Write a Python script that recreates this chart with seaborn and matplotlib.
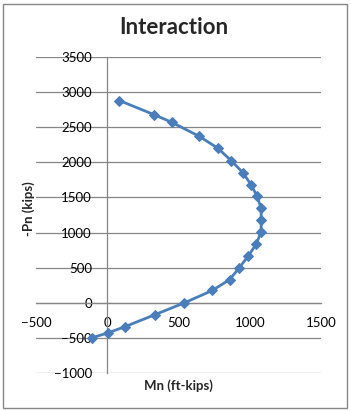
import matplotlib
matplotlib.use("Agg")
import matplotlib.pyplot as plt
import matplotlib.patches as patches
import numpy as np
import pandas as pd
import seaborn as sns

# interaction diagram points
mn = [85, 327, 453, 646, 777, 869, 951, 1010, 1052, 1080, 1080, 1080,
      1047, 989, 925, 859, 737, 542, 334, 125, 3, -110]
pn = [2880, 2680, 2570, 2370, 2200, 2025, 1855, 1680, 1515, 1345, 1185, 1015,
      840, 665, 495, 330, 175, 0, -170, -340, -430, -500]
x_ticks = [-500, 0, 500, 1000, 1500]
y_ticks = [-1000, -500, 0, 500, 1000, 1500, 2000, 2500, 3000, 3500]

df = pd.DataFrame({"Mn": mn, "Pn": pn})

sns.set_style("white")
plt.rcParams['font.family'] = ['Lato', 'DejaVu Sans']

grey = '#868686'
blue = '#4a7ebb'

fig = plt.figure(figsize=(3.51, 4.11), dpi=100)
ax = fig.add_axes([36 / 351, 1 - 373 / 411, 285 / 351, 316 / 411])

# horizontal gridlines only, like excel
for v in y_ticks:
    ax.axhline(v, color=grey, lw=0.9, zorder=0)

sns.lineplot(data=df, x="Mn", y="Pn", sort=False, estimator=None, ax=ax,
             color=blue, lw=2, marker='D', markersize=5.5,
             markeredgecolor=blue, zorder=3)

ax.set_xlim(-500, 1500)
ax.set_ylim(-1000, 3500)
ax.set_xticks(x_ticks)
ax.set_yticks(y_ticks)

for s in ['top', 'right']:
    ax.spines[s].set_visible(False)
ax.spines['left'].set_position(('data', 0))
ax.spines['bottom'].set_position(('data', 0))
ax.spines['left'].set_color(grey)
ax.spines['bottom'].set_color(grey)
ax.spines['left'].set_linewidth(0.9)
ax.spines['bottom'].set_linewidth(0.9)
ax.tick_params(axis='both', direction='out', length=3, width=0.9, color=grey,
               labelsize=9.5, labelcolor='black')
ax.tick_params(axis='x', pad=7)
ax.tick_params(axis='y', pad=8)

ax.set_xlabel("Mn (ft-kips)", fontsize=9.5, fontweight='bold')
ax.set_ylabel("-Pn (kips)", fontsize=9.5, fontweight='bold')
ax.xaxis.set_label_coords(0.5, -0.02)
ax.yaxis.set_label_coords(-0.005, 0.52)

fig.text(174 / 351, 1 - 27 / 411, "Interaction", fontsize=16, fontweight='bold',
         ha='center', va='center')

# chart border
fig.patches.append(patches.Rectangle((2.5 / 351, 3.5 / 411), 344.5 / 351, 403 / 411,
                                     transform=fig.transFigure, fill=False,
                                     edgecolor=grey, lw=1))

fig.savefig("out.png", dpi=100)
